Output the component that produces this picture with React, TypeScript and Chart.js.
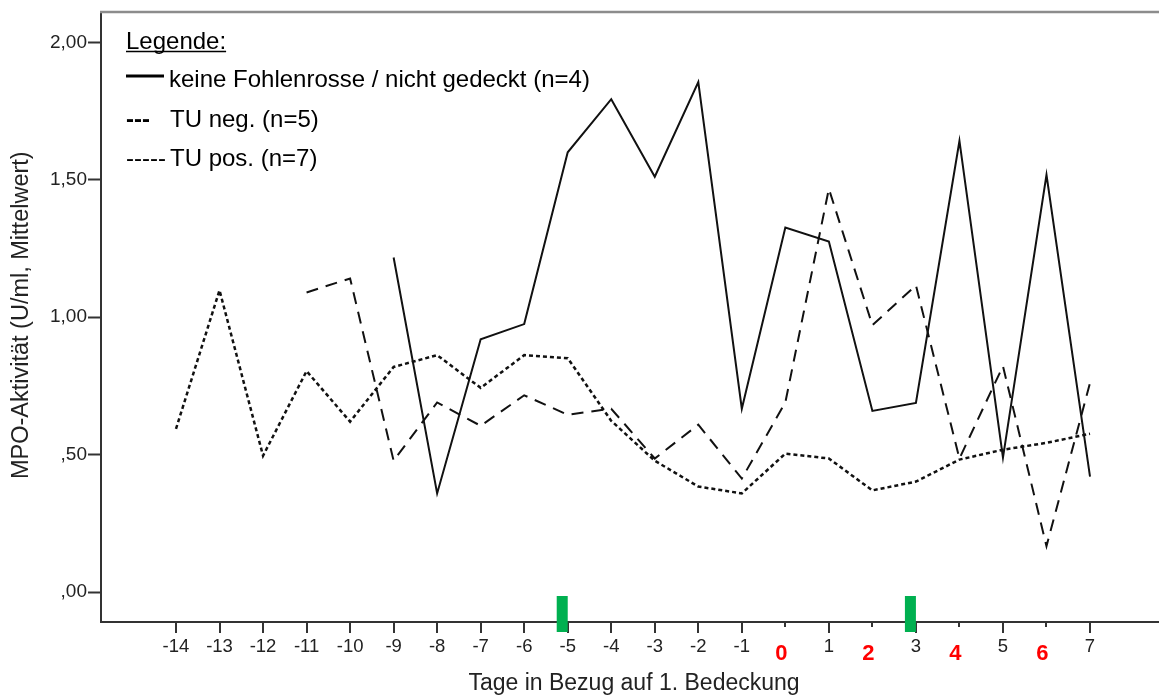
import React, { useEffect, useRef } from 'react';
import { Chart, registerables } from 'chart.js';

Chart.register(...registerables);

// ---- data ----
const days = [-14, -13, -12, -11, -10, -9, -8, -7, -6, -5, -4, -3, -2, -1, 0, 1, 2, 3, 4, 5, 6, 7];

const keineFohlenrosse = [null, null, null, null, null, 1.217, 0.359, 0.92, 0.975, 1.6, 1.793, 1.511, 1.855, 0.667, 1.326, 1.275, 0.659, 0.688, 1.641, 0.489, 1.518, 0.42];
const tuNeg = [null, null, null, 1.09, 1.141, 0.478, 0.69, 0.605, 0.716, 0.645, 0.667, 0.486, 0.609, 0.413, 0.69, 1.467, 0.971, 1.116, 0.486, 0.822, 0.167, 0.761];
const tuPos = [0.594, 1.098, 0.496, 0.804, 0.62, 0.819, 0.862, 0.743, 0.862, 0.851, 0.623, 0.478, 0.384, 0.359, 0.504, 0.486, 0.37, 0.402, 0.482, 0.518, 0.543, 0.576];

const redDays = [0, 2, 4, 6];
const greenMarkerDays = [-5, 3];

const yTicks = [0, 0.5, 1, 1.5, 2];
const yTickLabels = [',00', ',50', '1,00', '1,50', '2,00'];

const seriesNames = ['keine Fohlenrosse / nicht gedeckt (n=4)', 'TU neg. (n=5)', 'TU pos. (n=7)'];
const legendTitle = 'Legende:';
const xTitle = 'Tage in Bezug auf 1. Bedeckung';
const yTitle = 'MPO-Aktivität (U/ml, Mittelwert)';

const FONT = '"Liberation Sans", Arial, Helvetica, sans-serif';

const decorPlugin = {
  id: 'decor',
  afterDraw(chart: any) {
    const ctx = chart.ctx;
    const area = chart.chartArea;
    const xs = chart.scales.x;
    ctx.save();

    // top frame line
    ctx.strokeStyle = '#8c8c8c';
    ctx.lineWidth = 2.5;
    ctx.beginPath();
    ctx.moveTo(area.left - 1, area.top - 0.5);
    ctx.lineTo(area.right, area.top - 0.5);
    ctx.stroke();

    // x ticks
    ctx.strokeStyle = '#333';
    ctx.lineWidth = 2;
    days.forEach((d) => {
      const x = Math.round(xs.getPixelForValue(d));
      const len = redDays.includes(d) ? 5 : 11;
      ctx.beginPath();
      ctx.moveTo(x, area.bottom);
      ctx.lineTo(x, area.bottom + len);
      ctx.stroke();
    });

    // x tick labels (black)
    ctx.fillStyle = '#222';
    ctx.font = `18.5px ${FONT}`;
    ctx.textAlign = 'center';
    ctx.textBaseline = 'alphabetic';
    days.forEach((d) => {
      if (redDays.includes(d)) return;
      const x = xs.getPixelForValue(d);
      ctx.fillText(String(d), x, area.bottom + 30);
    });

    // red labels
    ctx.fillStyle = '#ff0000';
    ctx.font = `bold 22px ${FONT}`;
    redDays.forEach((d) => {
      const x = xs.getPixelForValue(d) - 4;
      ctx.fillText(String(d), x, area.bottom + 38);
    });

    // green markers
    ctx.fillStyle = '#00b050';
    greenMarkerDays.forEach((d) => {
      const x = xs.getPixelForValue(d);
      ctx.fillRect(x - 11, area.bottom - 26, 11, 36);
    });

    // axis titles
    ctx.fillStyle = '#222';
    ctx.font = `23px ${FONT}`;
    ctx.textAlign = 'center';
    ctx.fillText(xTitle, (area.left + area.right) / 2 + 4, area.bottom + 68);

    ctx.save();
    ctx.translate(22, (area.top + area.bottom) / 2 - 2);
    ctx.rotate(-Math.PI / 2);
    ctx.font = `23.5px ${FONT}`;
    ctx.textBaseline = 'middle';
    ctx.fillText(yTitle, 0, 0);
    ctx.restore();

    // legend
    ctx.fillStyle = '#000';
    ctx.textAlign = 'left';
    ctx.textBaseline = 'alphabetic';
    ctx.font = `24px ${FONT}`;
    const lx = area.left + 25;
    ctx.fillText(legendTitle, lx, 49);
    const tw = ctx.measureText(legendTitle).width;
    ctx.strokeStyle = '#000';
    ctx.lineWidth = 1.5;
    ctx.beginPath();
    ctx.moveTo(lx, 51.5);
    ctx.lineTo(lx + tw, 51.5);
    ctx.stroke();

    // row 1: solid line symbol
    ctx.lineWidth = 3;
    ctx.beginPath();
    ctx.moveTo(lx, 76);
    ctx.lineTo(lx + 38, 76);
    ctx.stroke();
    ctx.fillText(seriesNames[0], lx + 43, 87);

    // row 2
    ctx.font = `bold 24px ${FONT}`;
    ctx.fillText('---', lx, 127);
    ctx.font = `24px ${FONT}`;
    ctx.fillText(seriesNames[1], lx + 44, 127);

    // row 3
    ctx.fillText('-----', lx, 166);
    ctx.fillText(seriesNames[2], lx + 44, 166);

    ctx.restore();
  },
};

export default function App() {
  const ref = useRef<HTMLCanvasElement | null>(null);

  useEffect(() => {
    document.body.style.margin = '0';
    const canvas = ref.current;
    if (!canvas) return;
    const mk = (arr: (number | null)[]) => days.map((d, i) => ({ x: d, y: arr[i] }));
    const chart = new Chart(canvas, {
      type: 'line',
      data: {
        datasets: [
          {
            label: seriesNames[0],
            data: mk(keineFohlenrosse) as any,
            borderColor: '#111',
            borderWidth: 2,
            pointRadius: 0,
            tension: 0,
          },
          {
            label: seriesNames[1],
            data: mk(tuNeg) as any,
            borderColor: '#111',
            borderWidth: 2,
            borderDash: [12, 8],
            pointRadius: 0,
            tension: 0,
          },
          {
            label: seriesNames[2],
            data: mk(tuPos) as any,
            borderColor: '#111',
            borderWidth: 2.5,
            borderDash: [4, 3],
            pointRadius: 0,
            tension: 0,
          },
        ],
      },
      options: {
        animation: false,
        responsive: true,
        maintainAspectRatio: false,
        layout: { padding: { top: 10, right: 0, left: 0, bottom: 0 } },
        plugins: {
          legend: { display: false },
          tooltip: { enabled: false },
        },
        scales: {
          x: {
            type: 'linear',
            min: -15.723,
            max: 8.585,
            grid: { display: false },
            border: { display: true, color: '#333', width: 2 },
            ticks: { display: false },
            afterBuildTicks: (s: any) => {
              s.ticks = days.map((d) => ({ value: d }));
            },
            afterFit: (s: any) => {
              s.height = 73;
            },
          },
          y: {
            type: 'linear',
            min: -0.1087,
            max: 2.1087,
            grid: { drawOnChartArea: false, drawTicks: true, tickLength: 13, tickWidth: 2, tickColor: '#333' },
            border: { display: true, color: '#333', width: 2 },
            ticks: {
              padding: 1,
              color: '#222',
              font: { family: FONT, size: 19 },
              callback: (v: any) => {
                const i = yTicks.indexOf(Number(v));
                return i >= 0 ? yTickLabels[i] : '';
              },
            },
            afterBuildTicks: (s: any) => {
              s.ticks = yTicks.map((v) => ({ value: v }));
            },
            afterFit: (s: any) => {
              s.width = 101;
            },
          },
        },
      },
      plugins: [decorPlugin],
    });
    return () => chart.destroy();
  }, []);

  return (
    <div style={{ width: 1159, height: 695, position: 'relative', background: '#fff' }}>
      <canvas ref={ref} />
    </div>
  );
}
